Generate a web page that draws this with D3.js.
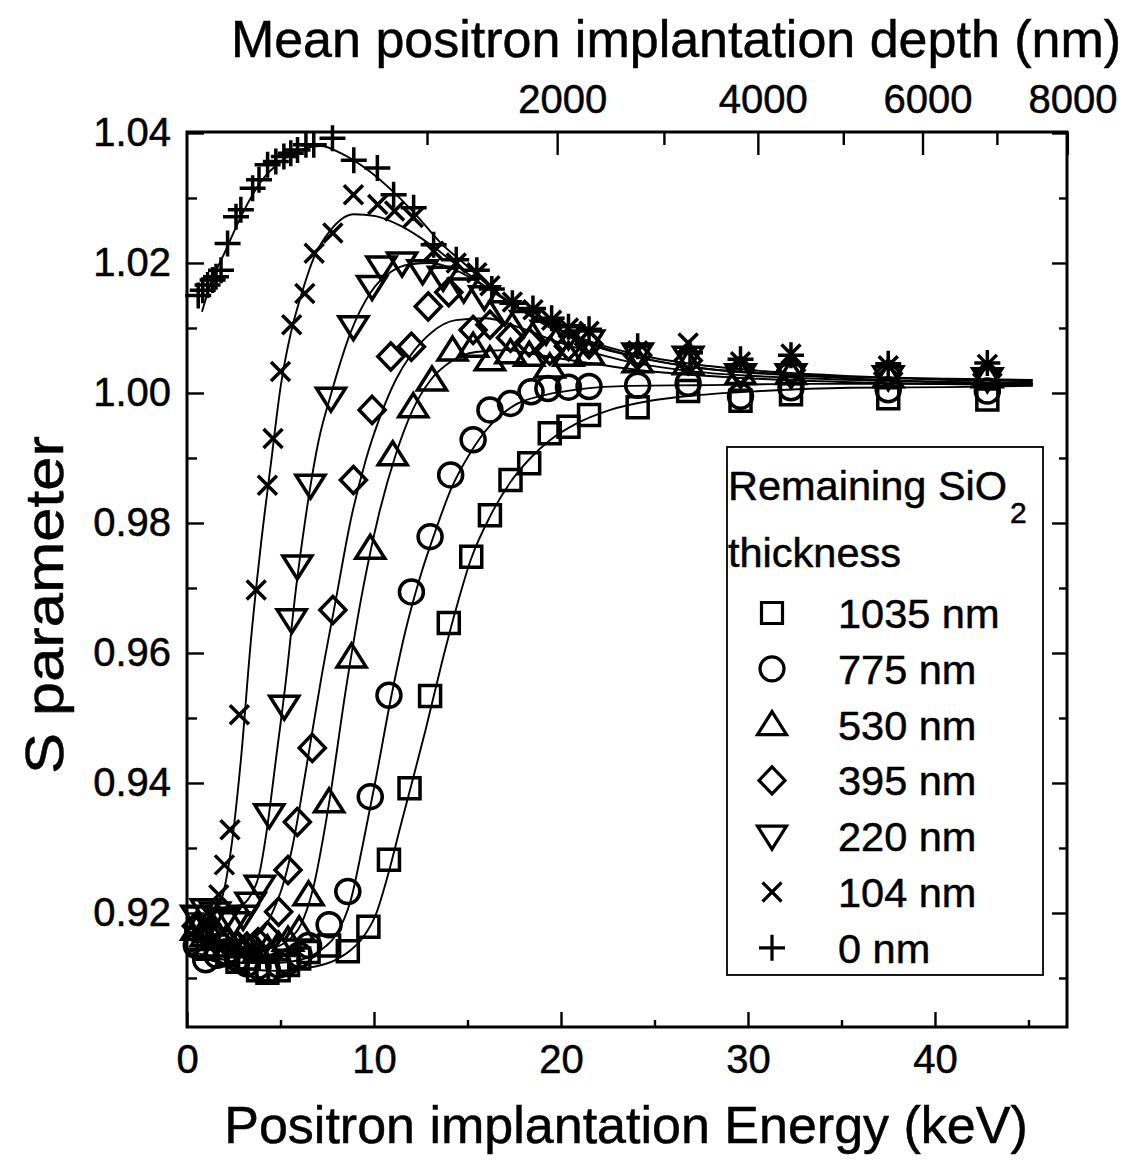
<!DOCTYPE html>
<html>
<head>
<meta charset="utf-8">
<script src="https://cdn.jsdelivr.net/npm/d3@7"></script>
<style>
  body { margin: 0; background: #fff; }
  svg text { font-family: "Liberation Sans", Arial, sans-serif; fill: #000; stroke: #000; stroke-width: 0.5; }
</style>
</head>
<body>
<svg width="1131" height="1163"></svg>
<script>
// S parameter vs positron energy, one series per remaining SiO2 thickness
const energy1035 = [0.5, 1.1, 1.6, 2.2, 2.7, 3.3, 3.8, 4.3, 4.9, 5.4, 6.0, 6.5, 7.6, 8.6, 9.7, 10.8, 11.9, 13.0, 14.0, 15.2, 16.2, 17.3, 18.3, 19.4, 20.4, 21.5, 24.1, 26.8, 29.6, 32.3, 37.5, 42.8];
const s1035 = [0.9160, 0.9145, 0.9150, 0.9135, 0.9125, 0.9130, 0.9112, 0.9108, 0.9112, 0.9120, 0.9130, 0.9140, 0.9150, 0.9141, 0.9179, 0.9282, 0.9392, 0.9534, 0.9646, 0.9748, 0.9812, 0.9866, 0.9892, 0.9938, 0.9948, 0.9966, 0.9978, 1.0003, 0.9988, 0.9998, 0.9992, 0.9990];

const energy775 = [0.5, 1.0, 1.6, 2.1, 2.7, 3.2, 3.8, 4.3, 4.9, 5.4, 6.0, 6.5, 7.6, 8.6, 9.8, 10.8, 12.0, 13.0, 14.1, 15.3, 16.2, 17.3, 18.4, 19.3, 20.4, 21.5, 24.1, 26.8, 29.6, 32.3, 37.5, 42.8];
const s775 = [0.9150, 0.9128, 0.9135, 0.9140, 0.9130, 0.9122, 0.9118, 0.9112, 0.9120, 0.9125, 0.9135, 0.9150, 0.9182, 0.9233, 0.9379, 0.9535, 0.9694, 0.9779, 0.9874, 0.9928, 0.9974, 0.9984, 1.0002, 1.0007, 1.0009, 1.0010, 1.0012, 1.0015, 0.9995, 1.0008, 1.0005, 1.0003];

const energy530 = [0.5, 1.0, 1.6, 2.1, 2.7, 3.2, 3.8, 4.3, 4.9, 5.4, 6.0, 6.5, 7.6, 8.8, 9.8, 11.0, 12.1, 13.1, 14.2, 15.3, 16.2, 17.3, 18.3, 19.4, 20.4, 21.5, 24.1, 26.8, 29.6, 32.3, 37.5, 42.8];
const s530 = [0.9175, 0.9165, 0.9168, 0.9160, 0.9150, 0.9148, 0.9140, 0.9145, 0.9150, 0.9158, 0.9174, 0.9228, 0.9371, 0.9594, 0.9761, 0.9905, 0.9979, 1.0020, 1.0066, 1.0072, 1.0051, 1.0062, 1.0058, 1.0040, 1.0058, 1.0060, 1.0048, 1.0045, 1.0030, 1.0030, 1.0025, 1.0025];

const energy395 = [0.5, 1.0, 1.6, 2.1, 2.7, 3.2, 3.8, 4.3, 4.9, 5.4, 5.9, 6.7, 7.8, 8.9, 9.9, 10.9, 12.0, 12.9, 14.0, 15.3, 16.2, 17.3, 18.3, 19.4, 20.4, 21.5, 24.1, 26.8, 29.6, 32.3, 37.5, 42.8];
const s395 = [0.9180, 0.9170, 0.9160, 0.9155, 0.9150, 0.9148, 0.9155, 0.9165, 0.9202, 0.9266, 0.9340, 0.9454, 0.9666, 0.9866, 0.9974, 1.0056, 1.0071, 1.0133, 1.0155, 1.0097, 1.0105, 1.0085, 1.0078, 1.0065, 1.0072, 1.0075, 1.0058, 1.0050, 1.0035, 1.0035, 1.0030, 1.0028];

const energy220 = [0.5, 1.0, 1.5, 2.0, 2.5, 3.0, 3.4, 3.9, 4.4, 5.2, 5.6, 5.9, 6.6, 7.7, 8.9, 9.9, 10.4, 11.5, 12.6, 13.7, 14.8, 15.9, 17.0, 18.1, 19.2, 20.4, 21.5, 24.1, 26.8, 29.6, 32.3, 37.5, 42.8];
const s220 = [0.9195, 0.9205, 0.9200, 0.9190, 0.9185, 0.9195, 0.9215, 0.9241, 0.9351, 0.9518, 0.9651, 0.9734, 0.9858, 0.9992, 1.0102, 1.0164, 1.0194, 1.0200, 1.0188, 1.0178, 1.0160, 1.0148, 1.0125, 1.0110, 1.0095, 1.0088, 1.0080, 1.0060, 1.0055, 1.0028, 1.0028, 1.0025, 1.0022];

const energy104 = [0.5, 0.9, 1.3, 1.7, 2.0, 2.3, 2.8, 3.7, 4.3, 4.6, 5.0, 5.6, 6.3, 6.8, 7.8, 8.9, 10.2, 11.1, 12.1, 13.2, 14.4, 15.5, 16.2, 17.4, 18.5, 19.5, 20.4, 21.5, 24.1, 26.8, 29.6, 32.3, 37.5, 42.8];
const s104 = [0.9175, 0.9185, 0.9195, 0.9228, 0.9274, 0.9328, 0.9505, 0.9697, 0.9858, 0.9930, 1.0033, 1.0105, 1.0153, 1.0215, 1.0246, 1.0305, 1.0290, 1.0280, 1.0270, 1.0218, 1.0200, 1.0185, 1.0165, 1.0140, 1.0128, 1.0112, 1.0100, 1.0095, 1.0065, 1.0077, 1.0048, 1.0060, 1.0042, 1.0044];

const energy0 = [0.6, 0.84, 1.1, 1.37, 1.55, 1.82, 2.17, 2.62, 2.88, 3.51, 3.85, 4.31, 4.75, 5.18, 5.55, 5.91, 6.36, 6.78, 7.78, 8.92, 10.18, 11.05, 12.12, 13.19, 14.4, 15.5, 16.3, 17.4, 18.5, 19.5, 20.4, 21.5, 24.1, 26.9, 29.6, 32.3, 37.5, 42.8];
const s0 = [1.0150, 1.0158, 1.0166, 1.0174, 1.0179, 1.0189, 1.0230, 1.0271, 1.0282, 1.0315, 1.0328, 1.0351, 1.0356, 1.0364, 1.0369, 1.0374, 1.0382, 1.0382, 1.0392, 1.0358, 1.0346, 1.0305, 1.0285, 1.0228, 1.0205, 1.0189, 1.0160, 1.0138, 1.0130, 1.0115, 1.0102, 1.0098, 1.0072, 1.0062, 1.0052, 1.0058, 1.0045, 1.0046];

// fitted curves
const fit1035E = [0, 1.55, 3.15, 4.75, 6.36, 7.96, 8.76, 9.40, 10.09, 10.79, 11.43, 12.07, 12.76, 13.56, 14.37, 15.17, 16.24, 17.30, 18.37, 19.44, 20.77, 22.64, 24.78, 27.45, 30.65, 35.46, 40.80, 45.23];
const fit1035S = [0.9140, 0.9125, 0.9114, 0.9111, 0.9115, 0.9128, 0.9143, 0.9162, 0.9197, 0.9263, 0.9335, 0.9405, 0.9482, 0.9577, 0.9666, 0.9743, 0.9812, 0.9863, 0.9900, 0.9928, 0.9952, 0.9974, 0.9988, 0.9997, 1.0003, 1.0008, 1.0009, 1.0011];

const fit775E = [0, 1.55, 3.15, 4.75, 6.09, 7.16, 7.96, 8.76, 9.40, 10.09, 10.89, 11.70, 12.50, 13.30, 14.10, 15.17, 16.24, 17.57, 19.17, 21.04, 23.72, 27.45, 32.79, 38.13, 45.23];
const fit775S = [0.9143, 0.9131, 0.9123, 0.9123, 0.9128, 0.9143, 0.9166, 0.9220, 0.9305, 0.9405, 0.9528, 0.9636, 0.9720, 0.9789, 0.9851, 0.9909, 0.9951, 0.9982, 0.9997, 1.0006, 1.0011, 1.0012, 1.0014, 1.0014, 1.0014];

const fit530E = [0, 1.55, 3.15, 4.49, 5.45, 6.09, 6.73, 7.58, 8.49, 9.40, 10.25, 11.16, 12.07, 13.03, 14.10, 15.44, 17.04, 18.91, 21.04, 24.25, 28.52, 33.86, 39.20, 45.23];
const fit530S = [0.9159, 0.9149, 0.9143, 0.9146, 0.9159, 0.9182, 0.9236, 0.9366, 0.9543, 0.9697, 0.9812, 0.9905, 0.9974, 1.0020, 1.0048, 1.0063, 1.0066, 1.0058, 1.0048, 1.0035, 1.0025, 1.0018, 1.0014, 1.0012];

const fit395E = [0, 1.55, 3.15, 4.06, 4.59, 5.13, 5.66, 6.36, 7.16, 7.96, 8.76, 9.56, 10.36, 11.16, 11.96, 13.03, 14.37, 15.97, 17.84, 19.97, 23.18, 27.45, 32.79, 38.13, 45.23];
const fit395S = [0.9166, 0.9159, 0.9159, 0.9174, 0.9202, 0.9243, 0.9305, 0.9420, 0.9558, 0.9682, 0.9805, 0.9897, 0.9966, 1.0020, 1.0058, 1.0092, 1.0112, 1.0115, 1.0100, 1.0077, 1.0051, 1.0032, 1.0023, 1.0018, 1.0015];

const fit220E = [0, 1.55, 2.88, 3.42, 3.85, 4.27, 4.75, 5.29, 5.82, 6.36, 7.05, 7.69, 8.76, 9.83, 10.89, 11.96, 13.03, 14.37, 16.24, 18.37, 21.04, 24.25, 28.52, 33.86, 39.20, 45.23];
const fit220S = [0.9208, 0.9208, 0.9212, 0.9228, 0.9258, 0.9328, 0.9435, 0.9558, 0.9697, 0.9812, 0.9928, 0.9997, 1.0094, 1.0155, 1.0186, 1.0198, 1.0200, 1.0189, 1.0158, 1.0120, 1.0082, 1.0054, 1.0035, 1.0025, 1.0018, 1.0015];

const fit104E = [0, 1.01, 1.55, 1.92, 2.35, 2.88, 3.42, 3.95, 4.49, 5.02, 5.55, 6.09, 6.78, 7.69, 8.92, 10.09, 11.43, 13.03, 14.63, 16.24, 17.84, 19.97, 22.11, 24.78, 27.45, 30.65, 35.46, 40.80, 45.23];
const fit104S = [0.9192, 0.9192, 0.9202, 0.9228, 0.9297, 0.9435, 0.9620, 0.9766, 0.9892, 1.0012, 1.0092, 1.0149, 1.0208, 1.0251, 1.0275, 1.0272, 1.0257, 1.0228, 1.0192, 1.0158, 1.0128, 1.0097, 1.0074, 1.0055, 1.0043, 1.0034, 1.0026, 1.0022, 1.0020];

const fit0E = [0.80, 1.28, 2.08, 2.88, 3.95, 5.02, 6.09, 7.16, 8.22, 9.67, 11.05, 12.34, 13.56, 14.79, 16.24, 17.84, 19.97, 22.11, 24.78, 27.45, 30.65, 35.46, 40.80, 45.23];
const fit0S = [1.0125, 1.0169, 1.0220, 1.0271, 1.0325, 1.0356, 1.0374, 1.0380, 1.0369, 1.0343, 1.0309, 1.0271, 1.0231, 1.0200, 1.0162, 1.0128, 1.0092, 1.0069, 1.0051, 1.0038, 1.0031, 1.0025, 1.0020, 1.0018];

// axis ticks
const energyTicks = [0, 10, 20, 30, 40];
const energyMinor = [5, 15, 25, 35, 45];
const sTicks = [0.92, 0.94, 0.96, 0.98, 1.00, 1.02, 1.04];
const sMinor = [0.91, 0.93, 0.95, 0.97, 0.99, 1.01, 1.03];
const depthTicks = [2000, 4000, 6000, 8000];
const depthMinor = [1000, 3000, 5000, 7000];

const series = [
  {label: "1035 nm", E: energy1035, S: s1035, fitE: fit1035E, fitS: fit1035S, symbol: "square"},
  {label: "775 nm", E: energy775, S: s775, fitE: fit775E, fitS: fit775S, symbol: "circle"},
  {label: "530 nm", E: energy530, S: s530, fitE: fit530E, fitS: fit530S, symbol: "triangleUp"},
  {label: "395 nm", E: energy395, S: s395, fitE: fit395E, fitS: fit395S, symbol: "diamond"},
  {label: "220 nm", E: energy220, S: s220, fitE: fit220E, fitS: fit220S, symbol: "triangleDown"},
  {label: "104 nm", E: energy104, S: s104, fitE: fit104E, fitS: fit104S, symbol: "cross"},
  {label: "0 nm", E: energy0, S: s0, fitE: fit0E, fitS: fit0S, symbol: "plus"}
];

const symbolPath = {
  square: "M-10.5,-10.5H10.5V10.5H-10.5Z",
  circle: "M12,0A12,12 0 1,1 -12,0A12,12 0 1,1 12,0Z",
  triangleUp: "M0,-13L14.5,10H-14.5Z",
  triangleDown: "M0,13L14.5,-10H-14.5Z",
  diamond: "M0,-13.5L13,0L0,13.5L-13,0Z",
  cross: "M-9.5,-9.5L9.5,9.5M-9.5,9.5L9.5,-9.5",
  plus: "M-13,0H13M0,-13V13"
};

const svg = d3.select("svg");
const width = +svg.attr("width");
const height = +svg.attr("height");
const margin = {top: 132, left: 187, bottom: 136, right: 64};
const innerwidth = width - margin.left - margin.right;
const innerheight = height - margin.top - margin.bottom;

const xScale = d3.scaleLinear().domain([0, 47.06]).range([0, innerwidth]);
const yScale = d3.scaleLinear().domain([0.90246, 1.04015]).range([innerheight, 0]);
// mean implantation depth grows as E^1.6
const depthScale = d3.scalePow().exponent(0.625).domain([0, 8000]).range([0, xScale(47.08)]);

const g = svg.append("g")
  .attr("transform", `translate(${margin.left}, ${margin.top})`);

const styleAxis = (sel, size) => {
  sel.select(".domain").remove();
  sel.selectAll(".tick line").attr("stroke", "#000").attr("stroke-width", 2.4);
  sel.selectAll("text").attr("font-size", size).attr("font-family", "Liberation Sans, Arial, sans-serif").attr("fill", "#000");
  sel.attr("font-family", null).attr("font-size", null);
};

// bottom
g.append("g").attr("transform", `translate(0, ${innerheight})`)
  .call(d3.axisBottom(xScale).tickValues(energyTicks).tickSize(-15).tickPadding(18).tickFormat(d3.format("d")))
  .call(s => styleAxis(s, 40));
g.append("g").attr("transform", `translate(0, ${innerheight})`)
  .call(d3.axisBottom(xScale).tickValues(energyMinor).tickSize(-7).tickFormat(""))
  .call(s => styleAxis(s, 40));

// left
g.append("g")
  .call(d3.axisLeft(yScale).tickValues(sTicks).tickSize(-17).tickPadding(16).tickFormat(d3.format(".2f")))
  .call(s => styleAxis(s, 40));
g.append("g")
  .call(d3.axisLeft(yScale).tickValues(sMinor).tickSize(-10).tickFormat(""))
  .call(s => styleAxis(s, 40));

// right
g.append("g").attr("transform", `translate(${innerwidth}, 0)`)
  .call(d3.axisRight(yScale).tickValues(sTicks).tickSize(-15).tickFormat(""))
  .call(s => styleAxis(s, 40));
g.append("g").attr("transform", `translate(${innerwidth}, 0)`)
  .call(d3.axisRight(yScale).tickValues(sMinor).tickSize(-8).tickFormat(""))
  .call(s => styleAxis(s, 40));

// top: mean depth
g.append("g")
  .call(d3.axisTop(depthScale).tickValues(depthTicks).tickSize(-23).tickPadding(19).tickFormat(d3.format("d")))
  .call(s => styleAxis(s, 40))
  .selectAll("text").attr("dx", 5);
g.append("g")
  .call(d3.axisTop(depthScale).tickValues(depthMinor).tickSize(-13).tickFormat(""))
  .call(s => styleAxis(s, 40));

// frame
g.append("rect")
  .attr("width", innerwidth).attr("height", innerheight)
  .attr("fill", "none").attr("stroke", "#000").attr("stroke-width", 3);

// fits
const line = d3.line()
  .x(d => xScale(d[0]))
  .y(d => yScale(d[1]))
  .curve(d3.curveMonotoneX);

series.forEach(s => {
  g.append("path")
    .datum(d3.zip(s.fitE, s.fitS))
    .attr("d", line)
    .attr("fill", "none")
    .attr("stroke", "#000")
    .attr("stroke-width", 1.9);
});

// points
series.forEach(s => {
  g.append("g").selectAll("path")
    .data(d3.zip(s.E, s.S))
    .enter().append("path")
      .attr("transform", d => `translate(${xScale(d[0])}, ${yScale(d[1])})`)
      .attr("d", symbolPath[s.symbol])
      .attr("fill", "none")
      .attr("stroke", "#000")
      .attr("stroke-width", 3.5);
});

// legend
const legend = svg.append("g").attr("transform", "translate(727, 447)");
legend.append("rect")
  .attr("width", 316).attr("height", 528)
  .attr("fill", "#fff").attr("stroke", "#000").attr("stroke-width", 1.8);
const lt = legend.append("text").attr("x", 1).attr("y", 53).attr("font-size", 41.5);
lt.append("tspan").text("Remaining SiO");
lt.append("tspan").attr("font-size", 30).attr("dy", 23).attr("dx", 3).text("2");
legend.append("text").attr("x", 1).attr("y", 120).attr("font-size", 41.5).text("thickness");

const item = legend.selectAll(".item").data(series)
  .enter().append("g")
    .attr("class", "item")
    .attr("transform", (d, i) => `translate(0, ${166 + i * 55.8})`);
item.append("path")
  .attr("transform", "translate(45, 0)")
  .attr("d", d => symbolPath[d.symbol])
  .attr("fill", "none").attr("stroke", "#000").attr("stroke-width", 3.2);
item.append("text")
  .attr("x", 111).attr("y", 15)
  .attr("font-size", 41.5)
  .text(d => d.label);

// axis titles
svg.append("text")
  .attr("x", 676).attr("y", 57)
  .attr("text-anchor", "middle").attr("font-size", 52)
  .text("Mean positron implantation depth (nm)");
svg.append("text")
  .attr("x", 626).attr("y", 1143)
  .attr("text-anchor", "middle").attr("font-size", 52)
  .text("Positron implantation Energy (keV)");
svg.append("text")
  .attr("transform", "translate(63, 605) rotate(-90)")
  .attr("text-anchor", "middle").attr("font-size", 54)
  .attr("textLength", 338).attr("lengthAdjust", "spacingAndGlyphs")
  .text("S parameter");
</script>
</body>
</html>
